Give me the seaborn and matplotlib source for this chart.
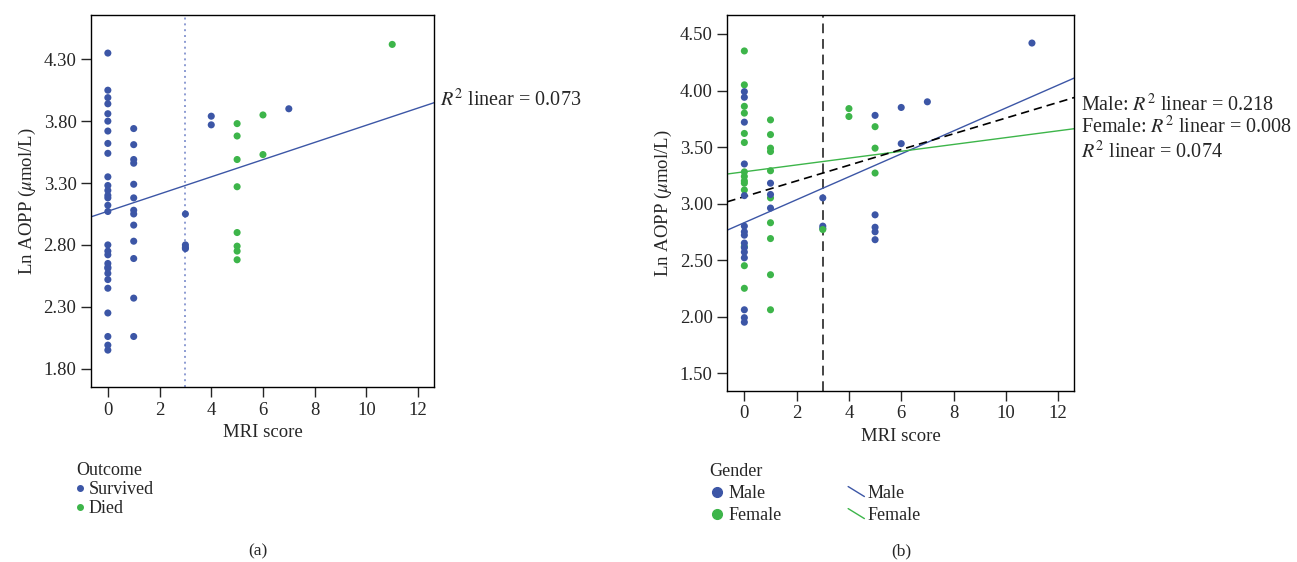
import matplotlib
matplotlib.use("Agg")
import matplotlib.pyplot as plt
from matplotlib.lines import Line2D
from matplotlib.legend_handler import HandlerBase
import seaborn as sns
import pandas as pd

# values
mri_score = [0] * 14 + [0] * 15 + [1] * 10 + [1] * 3 + [3] * 4 + [4] * 2 + [5] * 8 + [6] * 2 + [7] + [11]
ln_aopp = [
    # MRI 0, female
    4.35, 4.05, 3.86, 3.80, 3.62, 3.54, 3.28, 3.24, 3.20, 3.18, 3.12, 2.62, 2.45, 2.25,
    # MRI 0, male
    3.99, 3.94, 3.72, 3.35, 3.07, 2.80, 2.75, 2.72, 2.65, 2.61, 2.57, 2.52, 2.06, 1.99, 1.95,
    # MRI 1, female
    3.74, 3.61, 3.49, 3.46, 3.29, 3.05, 2.83, 2.69, 2.37, 2.06,
    # MRI 1, male
    3.18, 3.08, 2.96,
    # MRI 3
    3.05, 2.80, 2.78, 2.77,
    # MRI 4
    3.84, 3.77,
    # MRI 5
    3.78, 3.68, 3.49, 3.27, 2.90, 2.79, 2.75, 2.68,
    # MRI 6, 7, 11
    3.85, 3.53, 3.90, 4.42,
]
outcome = (["Survived"] * 14 + ["Survived"] * 15 + ["Survived"] * 13 + ["Survived"] * 4
           + ["Survived"] * 2 + ["Died"] * 8 + ["Died"] * 2 + ["Survived"] + ["Died"])
gender = (["Female"] * 14 + ["Male"] * 15 + ["Female"] * 10 + ["Male"] * 3
          + ["Male", "Male", "Male", "Female"] + ["Female"] * 2
          + ["Male", "Female", "Female", "Female", "Male", "Male", "Male", "Male"]
          + ["Male", "Male", "Male", "Male"])

# fit lines as printed in the figure (intercept, slope)
fit_a_total = (3.072, 0.0695)
fit_b_male = (2.831, 0.1014)
fit_b_female = (3.281, 0.0302)
fit_b_total = (3.061, 0.0695)

r2_a = "$R^2$ linear = 0.073"
r2_b = ["Male: $R^2$ linear = 0.218", "Female: $R^2$ linear = 0.008", "$R^2$ linear = 0.074"]

df = pd.DataFrame({"mri": mri_score, "aopp": ln_aopp, "outcome": outcome, "gender": gender})

BLUE = "#3c56a6"
GREEN = "#3db54a"


class DiagHandler(HandlerBase):
    # short slanted line like the SPSS legend
    def create_artists(self, legend, orig_handle, xdescent, ydescent, width, height, fontsize, trans):
        mid = height / 2 - ydescent
        ln = Line2D([-xdescent, width - xdescent], [mid + 3.6, mid - 3.6],
                    color=orig_handle.get_color(), linewidth=orig_handle.get_linewidth(), transform=trans)
        return [ln]


sns.set_style("ticks")
plt.rcParams["font.family"] = ["Liberation Serif", "DejaVu Serif"]
plt.rcParams["mathtext.fontset"] = "stix"
plt.rcParams["font.size"] = 13

fig = plt.figure(figsize=(12.97, 5.62), dpi=100)
ax1 = fig.add_axes([0.0702, 0.3114, 0.2645, 0.662])
ax2 = fig.add_axes([0.5608, 0.3048, 0.2675, 0.6685])


def style_axes(ax):
    ax.set_xlim(-0.65, 12.62)
    ax.set_xticks([0, 2, 4, 6, 8, 10, 12])
    for s in ax.spines.values():
        s.set_visible(True)
        s.set_color("black")
        s.set_linewidth(1.0)
    ax.tick_params(direction="out", length=7, width=1, labelsize=13.5, top=False, right=False)
    ax.set_xlabel("MRI score", fontsize=13.5)
    ax.set_ylabel(r"Ln AOPP ($\mu$mol/L)", fontsize=13.5)


# panel (a)
sns.scatterplot(data=df, x="mri", y="aopp", hue="outcome", palette={"Survived": BLUE, "Died": GREEN},
                s=26, edgecolor="none", legend=False, ax=ax1, zorder=3)
ax1.axvline(3, color="#8c9bd2", linestyle=(0, (1, 2.0)), linewidth=1.4, zorder=1)
ax1.axline((0, fit_a_total[0]), slope=fit_a_total[1], color=BLUE, linewidth=1.0)
style_axes(ax1)
ax1.set_ylim(1.652, 4.658)
ax1.set_yticks([1.80, 2.30, 2.80, 3.30, 3.80, 4.30])
ax1.set_yticklabels(["1.80", "2.30", "2.80", "3.30", "3.80", "4.30"])
ax1.text(1.017, 0.770, r2_a, transform=ax1.transAxes, va="center", ha="left", fontsize=14.5)

h_a = [Line2D([], [], marker="o", linestyle="none", color=BLUE, markersize=4),
       Line2D([], [], marker="o", linestyle="none", color=GREEN, markersize=4)]
fig.legend(h_a, ["Survived", "Died"], title="Outcome", loc="upper left",
           bbox_to_anchor=(0.049, 0.201), frameon=False, alignment="left",
           handlelength=0.4, handletextpad=0.3, labelspacing=0.12, borderpad=0.2,
           fontsize=13, title_fontsize=13)

# panel (b)
sns.scatterplot(data=df, x="mri", y="aopp", hue="gender", palette={"Male": BLUE, "Female": GREEN},
                s=26, edgecolor="none", legend=False, ax=ax2, zorder=3)
ax2.axvline(3, color="#444444", linestyle=(0, (5, 3)), linewidth=1.4, zorder=1)
ax2.axline((0, fit_b_male[0]), slope=fit_b_male[1], color=BLUE, linewidth=1.0)
ax2.axline((0, fit_b_female[0]), slope=fit_b_female[1], color=GREEN, linewidth=1.0)
ax2.axline((0, fit_b_total[0]), slope=fit_b_total[1], color="black", linewidth=1.2, linestyle=(0, (5, 3)))
style_axes(ax2)
ax2.set_ylim(1.344, 4.668)
ax2.set_yticks([1.5, 2.0, 2.5, 3.0, 3.5, 4.0, 4.5])
ax2.set_yticklabels(["1.50", "2.00", "2.50", "3.00", "3.50", "4.00", "4.50"])
for t, yy in zip(r2_b, [0.760, 0.702, 0.636]):
    ax2.text(1.019, yy, t, transform=ax2.transAxes, va="center", ha="left", fontsize=14.5)

h_b = [Line2D([], [], marker="o", linestyle="none", color=BLUE, markersize=7),
       Line2D([], [], marker="o", linestyle="none", color=GREEN, markersize=7),
       Line2D([], [], color=BLUE, linewidth=1.0),
       Line2D([], [], color=GREEN, linewidth=1.0)]
fig.legend(h_b, ["Male", "Female", "Male", "Female"], title="Gender", loc="upper left", ncol=2,
           bbox_to_anchor=(0.537, 0.199), frameon=False, alignment="left",
           handlelength=0.9, handletextpad=0.15, labelspacing=0.28, borderpad=0.2,
           columnspacing=3.7, fontsize=13, title_fontsize=13,
           handler_map={h_b[2]: DiagHandler(), h_b[3]: DiagHandler()})

fig.text(0.199, 0.018, "(a)", ha="center", va="center", fontsize=12.5)
fig.text(0.695, 0.018, "(b)", ha="center", va="center", fontsize=12.5)

fig.savefig("out.png", dpi=100)
